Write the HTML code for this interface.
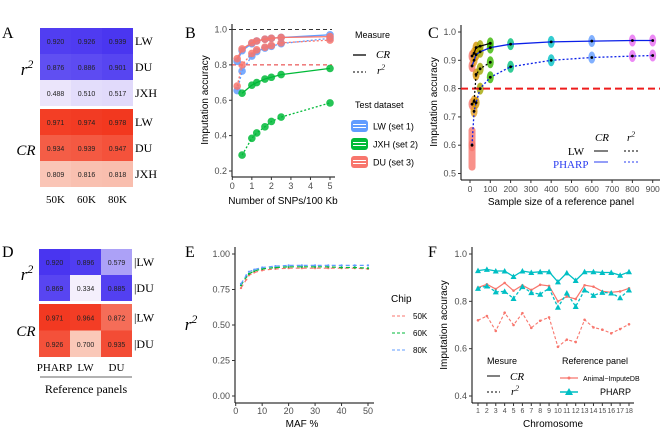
<!DOCTYPE html>
<html><head><meta charset="utf-8">
<style>
html,body{margin:0;padding:0;background:#fff;}
svg{display:block;font-family:"Liberation Sans",sans-serif;}
.serif{font-family:"Liberation Serif",serif;}
</style></head>
<body>
<svg id="fig" width="668" height="431" viewBox="0 0 668 431"></svg>
<script>
// ---------- data ----------
const aCols = ["50K","60K","80K"];
const aRows = ["LW","DU","JXH"];
const aR2 = [[0.920,0.926,0.939],[0.876,0.886,0.901],[0.488,0.510,0.517]];
const aCR = [[0.971,0.974,0.978],[0.934,0.939,0.947],[0.809,0.816,0.818]];

const dCols = ["PHARP","LW","DU"];
const dRows = ["LW","DU"];
const dR2 = [[0.920,0.896,0.579],[0.869,0.334,0.885]];
const dCR = [[0.971,0.964,0.872],[0.926,0.700,0.935]];

const bX = [0.25,0.5,1,1.25,1.67,2,2.5,5];
const bXJ = [0.5,1,1.25,1.67,2,2.5,5];
const bLwCR = [0.82,0.88,0.92,0.935,0.945,0.95,0.955,0.97];
const bLwR2 = [0.655,0.765,0.85,0.875,0.895,0.905,0.92,0.95];
const bDuCR = [0.835,0.89,0.925,0.935,0.945,0.95,0.955,0.96];
const bDuR2 = [0.68,0.80,0.865,0.885,0.90,0.91,0.925,0.94];
const bJxCR = [0.64,0.685,0.70,0.72,0.73,0.745,0.78];
const bJxR2 = [0.29,0.385,0.415,0.45,0.48,0.505,0.585];
const bXTicks = [0,1,2,3,4,5];
const bYTicks = [0.2,0.4,0.6,0.8,1.0];

const cXL = [10,20,30,50,100];
const cLwCR = [0.915,0.925,0.945,0.95,0.96];
const cLwR2 = [0.745,0.755,0.85,0.87,0.893];
const cXP = [10,20,30,50,100,200,400,600,800,900];
const cPhCR = [0.88,0.90,0.92,0.93,0.945,0.957,0.965,0.968,0.97,0.97];
const cPhR2 = [0.60,0.72,0.75,0.80,0.84,0.877,0.90,0.91,0.915,0.917];
const cXTicks = [0,100,200,300,400,500,600,700,800,900];
const cYTicks = [0.5,0.6,0.7,0.8,0.9,1.0];

const eX = [2,4,5,7,10,15,20,25,30,35,40,45,50];
const e50 = [0.76,0.82,0.85,0.87,0.885,0.895,0.90,0.90,0.90,0.90,0.90,0.90,0.895];
const e60 = [0.78,0.84,0.86,0.88,0.895,0.905,0.91,0.91,0.91,0.91,0.905,0.905,0.90];
const e80 = [0.79,0.85,0.875,0.89,0.905,0.915,0.92,0.92,0.92,0.92,0.92,0.92,0.92];
const eXTicks = [0,10,20,30,40,50];
const eYTicks = [0,0.25,0.5,0.75,1.0];

const fChr = [1,2,3,4,5,6,7,8,9,10,11,12,13,14,15,16,17,18];
const fPhCR = [0.93,0.935,0.928,0.928,0.905,0.928,0.922,0.925,0.925,0.882,0.92,0.888,0.925,0.925,0.922,0.922,0.91,0.925];
const fPhR2 = [0.855,0.865,0.84,0.842,0.812,0.862,0.837,0.83,0.855,0.775,0.835,0.778,0.848,0.825,0.838,0.835,0.815,0.848];
const fAnCR = [0.858,0.872,0.852,0.878,0.845,0.868,0.848,0.87,0.865,0.80,0.82,0.81,0.868,0.862,0.842,0.838,0.842,0.855];
const fAnR2 = [0.72,0.738,0.675,0.752,0.70,0.75,0.688,0.718,0.732,0.608,0.638,0.628,0.722,0.69,0.68,0.665,0.683,0.703];
const fYTicks = [0.4,0.6,0.8,1.0];

// ---------- helpers ----------
const svg = document.getElementById('fig');
const NS = 'http://www.w3.org/2000/svg';
function mk(tag, attrs, name, parent){
  const el = document.createElementNS(NS, tag);
  for (const k in attrs) el.setAttribute(k, attrs[k]);
  
  
  (parent || svg).appendChild(el);
  return el;
}
function txt(x,y,s,name,opt){
  opt = opt || {};
  const t = mk('text', {x:x,y:y,'font-size':opt.size||9,fill:opt.fill||'#4d4d4d','text-anchor':opt.anchor||'start'}, name);
  if (opt.cls) t.setAttribute('class', opt.cls);
  if (opt.italic) t.setAttribute('font-style','italic');
  if (opt.rot) t.setAttribute('transform','rotate(-90 '+x+' '+y+')');
  t.textContent = s;
  return t;
}
function r2label(x,y,size,name){
  const t = mk('text',{x:x,y:y,'font-size':size,fill:'#000','font-style':'italic','class':'serif','text-anchor':'middle'},name);
  t.textContent = 'r';
  const s = mk('tspan',{dy:-size*0.4,'font-size':size*0.7},name+'-sup',t);
  s.textContent = '2';
  return t;
}
function lerp(a,b,t){return a+(b-a)*t;}
function mix(c1,c2,t){
  t=Math.max(0,Math.min(1,t));
  return 'rgb('+Math.round(lerp(c1[0],c2[0],t))+','+Math.round(lerp(c1[1],c2[1],t))+','+Math.round(lerp(c1[2],c2[2],t))+')';
}
function blueCol(v,lo,hi){return mix([245,240,252],[70,50,240],(v-lo)/(hi-lo));}
function redCol(v,lo,hi){return mix([250,205,190],[242,50,25],(v-lo)/(hi-lo));}
function lin(d0,d1,r0,r1){return v=>r0+(v-d0)/(d1-d0)*(r1-r0);}
function path(xs,ys,sx,sy,color,dash,name,w){
  let d='';
  xs.forEach((x,i)=>{d+=(i?'L':'M')+sx(x).toFixed(1)+' '+sy(ys[i]).toFixed(1);});
  const p = mk('path',{d:d,fill:'none',stroke:color,'stroke-width':w||1.2},name);
  if (dash) p.setAttribute('stroke-dasharray',dash);
  return p;
}
function axes(x0,y0,x1,y1,name){
  mk('line',{x1:x0,y1:y0,x2:x0,y2:y1,stroke:'#000','stroke-width':1},name+'-y-axis');
  mk('line',{x1:x0,y1:y1,x2:x1,y2:y1,stroke:'#000','stroke-width':1},name+'-x-axis');
}

// ---------- panel letters ----------
[['A',2,38],['B',185,38],['C',428,38],['D',2,257],['E',185,257],['F',428,257]].forEach(p=>{
  txt(p[1],p[2],p[0],'panel-label-'+p[0].toLowerCase(),{size:16,fill:'#000',cls:'serif'});
});

// ---------- heatmaps ----------
function heat(x0,cw,groups,cols,rowsN,name,lblPrefix){
  groups.forEach(g=>{
    g.vals.forEach((row,ri)=>{
      row.forEach((v,ci)=>{
        const x=x0+ci*cw, y=g.y+ri*g.rh;
        mk('rect',{x:x,y:y,width:cw,height:g.rh,fill:g.col(v)},name+'-cell-'+g.key+'-'+rowsN[ri].toLowerCase()+'-'+ci);
        txt(x+cw/2,y+g.rh/2+3,v.toFixed(3),name+'-value',{size:7,fill:'#222',anchor:'middle'});
      });
      txt(x0+cw*cols.length+2,g.y+ri*g.rh+g.rh/2+4,lblPrefix+rowsN[ri],name+'-row-label',{size:12,fill:'#000',cls:'serif'});
    });
  });
}
heat(40,31,[
  {key:'r2',y:28,rh:26,vals:aR2,col:v=>blueCol(v,0.46,0.95)},
  {key:'cr',y:109,rh:26,vals:aCR,col:v=>redCol(v,0.80,0.985)}
],aCols,aRows,'heatmap-a','');
aCols.forEach((c,i)=>txt(40+31*i+15.5,203,c,'heatmap-a-col-label',{size:11,fill:'#000',anchor:'middle',cls:'serif'}));
r2label(27,75,17,'heatmap-a-r2-label');
txt(26,155,'CR','heatmap-a-cr-label',{size:15,fill:'#000',anchor:'middle',italic:true,cls:'serif'});

heat(39,31,[
  {key:'r2',y:249,rh:26,vals:dR2,col:v=>blueCol(v,0.33,0.93)},
  {key:'cr',y:304,rh:26.5,vals:dCR,col:v=>redCol(v,0.69,0.985)}
],dCols,dRows,'heatmap-d','|');
dCols.forEach((c,i)=>txt(39+31*i+15.5,371,c,'heatmap-d-col-label',{size:11,fill:'#000',anchor:'middle',cls:'serif'}));
mk('line',{x1:40,y1:377,x2:132,y2:377,stroke:'#999','stroke-width':1.5},'heatmap-d-bracket');
txt(86,393,'Reference panels','heatmap-d-footer',{size:12,fill:'#000',anchor:'middle',cls:'serif'});
r2label(27,280,17,'heatmap-d-r2-label');
txt(26,336,'CR','heatmap-d-cr-label',{size:15,fill:'#000',anchor:'middle',italic:true,cls:'serif'});

// ---------- panel B ----------
(function(){
  const sx=lin(0,5,232.3,330), sy=lin(1,0.2,29.5,171);
  axes(232,24,335,177,'chart-b');
  bYTicks.forEach(t=>{mk('line',{x1:229,y1:sy(t),x2:232,y2:sy(t),stroke:'#333'},'chart-b-y-tick');txt(227,sy(t)+3,t.toFixed(1),'chart-b-y-tick-label',{anchor:'end'});});
  bXTicks.forEach(t=>{mk('line',{x1:sx(t),y1:177,x2:sx(t),y2:180,stroke:'#333'},'chart-b-x-tick');txt(sx(t),189,String(t),'chart-b-x-tick-label',{anchor:'middle'});});
  txt(283,204,'Number of SNPs/100 Kb','chart-b-x-title',{size:10,fill:'#000',anchor:'middle'});
  txt(208,100,'Imputation accuracy','chart-b-y-title',{size:10,fill:'#000',anchor:'middle',rot:true});
  mk('line',{x1:232,y1:sy(1),x2:332,y2:sy(1),stroke:'#333','stroke-dasharray':'4 3'},'chart-b-ref-1');
  mk('line',{x1:232,y1:sy(0.8),x2:332,y2:sy(0.8),stroke:'#e53030','stroke-dasharray':'4 3'},'chart-b-ref-08');
  const S=[[bX,bLwR2,'#619cff','2 2','lw-r2'],[bX,bDuR2,'#f8766d','2 2','du-r2'],[bXJ,bJxR2,'#00ba38','2 2','jxh-r2'],
           [bX,bLwCR,'#619cff',null,'lw-cr'],[bX,bDuCR,'#f8766d',null,'du-cr'],[bXJ,bJxCR,'#00ba38',null,'jxh-cr']];
  S.forEach(s=>{
    path(s[0],s[1],sx,sy,s[2],s[3],'chart-b-line-'+s[4],1.3);
    s[0].forEach((x,i)=>mk('circle',{cx:sx(x),cy:sy(s[1][i]),r:3.8,fill:s[2],'fill-opacity':0.85},'chart-b-point-'+s[4]));
  });
  txt(355,38,'Measure','chart-b-legend-title',{size:9,fill:'#000'});
  mk('line',{x1:353,y1:55,x2:366,y2:55,stroke:'#000','stroke-width':1.3},'chart-b-legend-cr-key');
  txt(376,58,'CR','chart-b-legend-cr',{size:11,fill:'#000',italic:true,cls:'serif'});
  mk('line',{x1:353,y1:72,x2:366,y2:72,stroke:'#000','stroke-dasharray':'2 2'},'chart-b-legend-r2-key');
  r2label(381,74,11,'chart-b-legend-r2');
  txt(355,108,'Test dataset','chart-b-legend-title-2',{size:9,fill:'#000'});
  [['LW  (set 1)','#619cff',126],['JXH (set 2)','#00ba38',144],['DU  (set 3)','#f8766d',162]].forEach((e,i)=>{
    mk('rect',{x:351,y:e[2]-6,width:17,height:12,rx:3,fill:e[1]},'chart-b-legend-key-'+i);
    mk('line',{x1:353,y1:e[2]-1.5,x2:366,y2:e[2]-1.5,stroke:'#fff','stroke-width':1},'chart-b-legend-key-line');
    mk('line',{x1:353,y1:e[2]+1.5,x2:366,y2:e[2]+1.5,stroke:'#fff','stroke-width':1},'chart-b-legend-key-line');
    txt(373,e[2]+3.5,e[0],'chart-b-legend-label',{size:9,fill:'#000'});
  });
})();

// ---------- panel C ----------
(function(){
  const sx=lin(0,900,470,652.7), sy=lin(1,0.5,32,173.5);
  axes(461,25,660,180,'chart-c');
  cYTicks.forEach(t=>{mk('line',{x1:458,y1:sy(t),x2:461,y2:sy(t),stroke:'#333'},'chart-c-y-tick');txt(456,sy(t)+3,t.toFixed(1),'chart-c-y-tick-label',{anchor:'end'});});
  cXTicks.forEach(t=>{mk('line',{x1:sx(t),y1:180,x2:sx(t),y2:183,stroke:'#333'},'chart-c-x-tick');txt(sx(t),192,String(t),'chart-c-x-tick-label',{anchor:'middle',size:8.5});});
  txt(561,205,'Sample size of a reference panel','chart-c-x-title',{size:10,fill:'#000',anchor:'middle'});
  txt(437,102,'Imputation accuracy','chart-c-y-title',{size:10,fill:'#000',anchor:'middle',rot:true});
  const gc={10:'#f8766d',20:'#e6a020',30:'#d39200',50:'#a3a500',100:'#39b600',200:'#00bf7d',400:'#00bfc4',600:'#619cff',800:'#e76bf3',900:'#e76bf3'};
  mk('rect',{x:sx(10)-3.5,y:sy(0.665),width:7,height:sy(0.51)-sy(0.665),rx:3.5,fill:'#f8766d','fill-opacity':0.8},'chart-c-spread-10');
  [[cXL,cLwCR],[cXL,cLwR2],[cXP,cPhCR],[cXP,cPhR2]].forEach((s,k)=>{
    s[0].forEach((x,i)=>mk('ellipse',{cx:sx(x),cy:sy(s[1][i]),rx:3.5,ry:6,fill:gc[x],'fill-opacity':0.8},'chart-c-blob'));
  });
  mk('line',{x1:461,y1:sy(0.8),x2:660,y2:sy(0.8),stroke:'#ee1c1c','stroke-width':2,'stroke-dasharray':'7 4'},'chart-c-ref-08');
  path(cXL,cLwCR,sx,sy,'#000',null,'chart-c-line-lw-cr',1.2);
  path(cXL,cLwR2,sx,sy,'#000','2 2','chart-c-line-lw-r2',1.2);
  path(cXP,cPhCR,sx,sy,'#0a1fe8',null,'chart-c-line-pharp-cr',1.3);
  path(cXP,cPhR2,sx,sy,'#0a1fe8','2 2','chart-c-line-pharp-r2',1.3);
  [[cXL,cLwCR],[cXL,cLwR2],[cXP,cPhCR],[cXP,cPhR2]].forEach(s=>s[0].forEach((x,i)=>mk('circle',{cx:sx(x),cy:sy(s[1][i]),r:1.4,fill:'#000'},'chart-c-point')));
  txt(602,141,'CR','chart-c-legend-cr',{size:11,fill:'#000',italic:true,cls:'serif',anchor:'middle'});
  r2label(631,141,11,'chart-c-legend-r2');
  txt(576,155,'LW','chart-c-legend-lw',{size:11,fill:'#000',cls:'serif',anchor:'middle'});
  txt(553,168,'PHARP','chart-c-legend-pharp',{size:11,fill:'#2a3cf0',cls:'serif'});
  mk('line',{x1:594,y1:151,x2:608,y2:151,stroke:'#000'},'chart-c-legend-lw-cr');
  mk('line',{x1:624,y1:151,x2:638,y2:151,stroke:'#000','stroke-dasharray':'2 2'},'chart-c-legend-lw-r2');
  mk('line',{x1:594,y1:162,x2:608,y2:162,stroke:'#2a3cf0'},'chart-c-legend-ph-cr');
  mk('line',{x1:624,y1:162,x2:638,y2:162,stroke:'#2a3cf0','stroke-dasharray':'2 2'},'chart-c-legend-ph-r2');
})();

// ---------- panel E ----------
(function(){
  const sx=lin(0,50,235.7,368), sy=lin(1,0,254,396);
  axes(235,247,374,403,'chart-e');
  eYTicks.forEach(t=>{mk('line',{x1:232,y1:sy(t),x2:235,y2:sy(t),stroke:'#333'},'chart-e-y-tick');txt(230,sy(t)+3,t.toFixed(2),'chart-e-y-tick-label',{anchor:'end'});});
  eXTicks.forEach(t=>{mk('line',{x1:sx(t),y1:403,x2:sx(t),y2:406,stroke:'#333'},'chart-e-x-tick');txt(sx(t),414,String(t),'chart-e-x-tick-label',{anchor:'middle'});});
  txt(302,427,'MAF %','chart-e-x-title',{size:10,fill:'#000',anchor:'middle'});
  r2label(191,330,17,'chart-e-y-title');
  [[e50,'#f8766d','50k'],[e60,'#00ba38','60k'],[e80,'#619cff','80k']].forEach(s=>{
    path(eX,s[0],sx,sy,s[1],'4 3','chart-e-line-'+s[2],1.2);
    eX.forEach((x,i)=>mk('circle',{cx:sx(x),cy:sy(s[0][i]),r:1.1,fill:s[1]},'chart-e-point-'+s[2]));
  });
  txt(391,302,'Chip','chart-e-legend-title',{size:10,fill:'#000'});
  [['50K','#f8766d',316],['60K','#00ba38',333],['80K','#619cff',350]].forEach(e=>{
    mk('line',{x1:392,y1:e[2],x2:406,y2:e[2],stroke:e[1],'stroke-dasharray':'3 2'},'chart-e-legend-key');
    txt(413,e[2]+3,e[0],'chart-e-legend-label',{size:8,fill:'#000'});
  });
})();

// ---------- panel F ----------
(function(){
  const sx=lin(1,18,478,629), sy=lin(1,0.4,254,396);
  axes(472,247,634,403,'chart-f');
  fYTicks.forEach(t=>{mk('line',{x1:469,y1:sy(t),x2:472,y2:sy(t),stroke:'#333'},'chart-f-y-tick');txt(467,sy(t)+3,t.toFixed(1),'chart-f-y-tick-label',{anchor:'end'});});
  fChr.forEach(t=>{mk('line',{x1:sx(t),y1:403,x2:sx(t),y2:406,stroke:'#333'},'chart-f-x-tick');txt(sx(t),413,String(t),'chart-f-x-tick-label',{anchor:'middle',size:7});});
  txt(553,427,'Chromosome','chart-f-x-title',{size:10,fill:'#000',anchor:'middle'});
  txt(447,325,'Imputation accuracy','chart-f-y-title',{size:10,fill:'#000',anchor:'middle',rot:true});
  path(fChr,fAnR2,sx,sy,'#f8766d','3 2','chart-f-line-animal-r2',1.1);
  path(fChr,fAnCR,sx,sy,'#f8766d',null,'chart-f-line-animal-cr',1.2);
  path(fChr,fPhCR,sx,sy,'#00bfc4',null,'chart-f-line-pharp-cr',1.3);
  path(fChr,fPhR2,sx,sy,'#00bfc4','3 2','chart-f-line-pharp-r2',1.3);
  [fAnR2,fAnCR].forEach(a=>fChr.forEach((c,i)=>mk('circle',{cx:sx(c),cy:sy(a[i]),r:1.3,fill:'#f8766d'},'chart-f-point-animal')));
  [fPhCR,fPhR2].forEach(a=>fChr.forEach((c,i)=>{const x=sx(c),y=sy(a[i]);mk('polygon',{points:(x-3)+','+(y+2.5)+' '+(x+3)+','+(y+2.5)+' '+x+','+(y-3),fill:'#00bfc4'},'chart-f-point-pharp');}));
  txt(487,364,'Mesure','chart-f-legend-title',{size:9,fill:'#000'});
  mk('line',{x1:487,y1:376,x2:500,y2:376,stroke:'#000'},'chart-f-legend-cr-key');
  txt(510,380,'CR','chart-f-legend-cr',{size:11,fill:'#000',italic:true,cls:'serif'});
  mk('line',{x1:487,y1:392,x2:500,y2:392,stroke:'#000','stroke-dasharray':'2 2'},'chart-f-legend-r2-key');
  r2label(515,395,11,'chart-f-legend-r2');
  txt(562,364,'Reference panel','chart-f-legend-title-2',{size:9,fill:'#000'});
  mk('line',{x1:560,y1:378,x2:578,y2:378,stroke:'#f8766d','stroke-width':1.3},'chart-f-legend-animal-key');
  mk('circle',{cx:569,cy:378,r:1.5,fill:'#f8766d'},'chart-f-legend-animal-dot');
  txt(583,381,'Animal\u2212ImputeDB','chart-f-legend-animal',{size:7,fill:'#000'});
  mk('line',{x1:560,y1:392,x2:578,y2:392,stroke:'#00bfc4','stroke-width':1.5},'chart-f-legend-pharp-key');
  mk('polygon',{points:'565,395 573,395 569,388',fill:'#00bfc4'},'chart-f-legend-pharp-tri');
  txt(600,395,'PHARP','chart-f-legend-pharp',{size:9,fill:'#000'});
})();
</script>
</body></html>
